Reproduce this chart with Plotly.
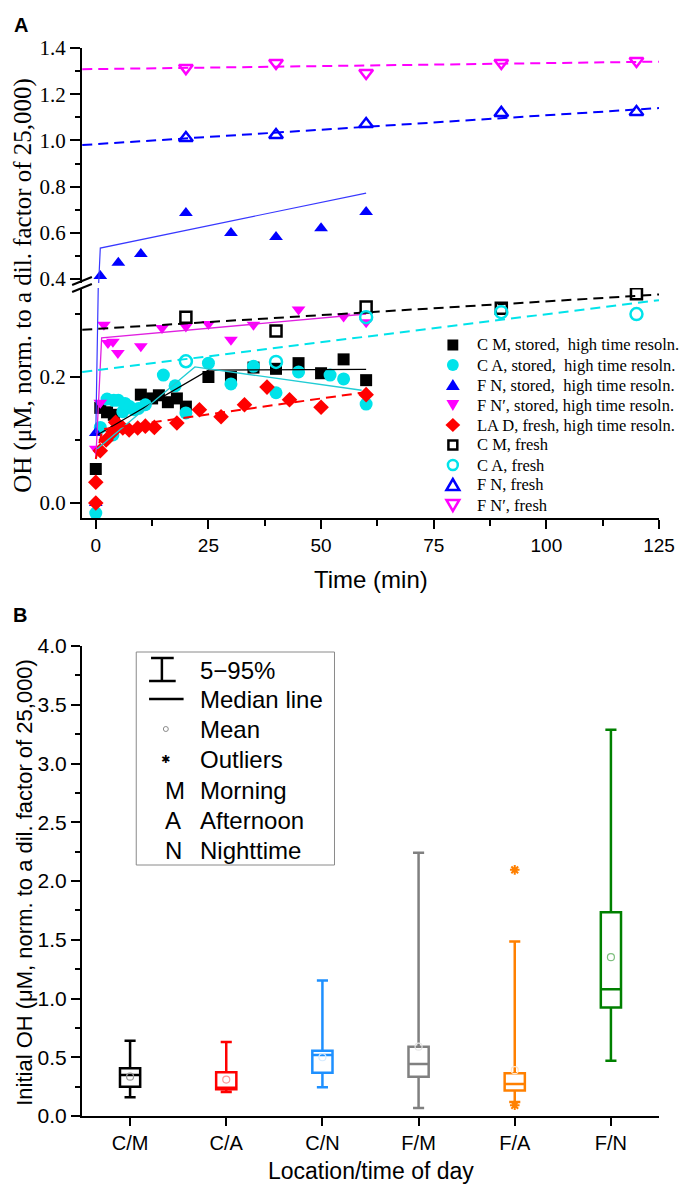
import plotly.graph_objects as go

# ---------------- Panel A data (time in min, OH in uM) ----------------
cm_stored_t = [0, 1, 2.5, 4, 10, 12.5, 14, 16, 18, 20, 25, 30, 35, 40, 45, 50, 55, 60]
cm_stored_v = [0.054, 0.151, 0.144, 0.140, 0.172, 0.166, 0.171, 0.160, 0.166, 0.153,
               0.200, 0.200, 0.215, 0.213, 0.222, 0.206, 0.228, 0.195]

ca_stored_t = [0, 1, 2.5, 3.8, 4, 5, 6, 6.5, 7.5, 8.5, 9.5, 11, 15, 17.6, 20,
               25, 30, 35, 40, 45, 52, 55, 60]
ca_stored_v = [-0.016, 0.120, 0.165, 0.108, 0.163, 0.163, 0.145, 0.158, 0.153, 0.148, 0.150, 0.156,
               0.203, 0.186, 0.143, 0.222, 0.189, 0.217, 0.175, 0.208, 0.203, 0.197, 0.157]

fn_stored_t = [0, 0, 1, 5, 10, 20, 30, 40, 50, 60]
fn_stored_v = [0.0, 0.111, 0.413, 0.47, 0.508, 0.686, 0.599, 0.582, 0.62, 0.69]

fnp_stored_t = [0, 1, 1.8, 2.7, 3.8, 4.9, 10, 14.7, 20, 25, 30, 35, 45, 55, 60]
fnp_stored_v = [0.086, 0.159, 0.283, 0.254, 0.256, 0.238, 0.249, 0.278, 0.280, 0.284,
                0.259, 0.283, 0.307, 0.296, 0.287]

lad_t = [0, 0, 1, 2.3, 3.8, 4.4, 6, 7.4, 9.3, 11, 13, 18, 23, 27.8, 33, 38, 43, 50, 60]
lad_v = [0.0, 0.033, 0.083, 0.100, 0.113, 0.128, 0.119, 0.116, 0.119, 0.122, 0.120,
         0.127, 0.148, 0.137, 0.156, 0.184, 0.164, 0.152, 0.172]

fresh_t = [20, 40, 60, 90, 120]
cm_fresh_v = [0.295, 0.273, 0.311, 0.309, 0.332]
ca_fresh_v = [0.225, 0.224, 0.295, 0.303, 0.300]
fn_fresh_v = [1.010, 1.023, 1.071, 1.119, 1.123]
fnp_fresh_v = [1.313, 1.335, 1.292, 1.335, 1.344]

# fitted curves
fit_span_t = [-3, 125]
cm_fresh_fit_v = [0.275, 0.331]
ca_fresh_fit_v = [0.208, 0.322]
fn_fresh_fit_v = [0.980, 1.140]
fnp_fresh_fit_v = [1.308, 1.341]

cm_stored_fit_t = [0.3, 25, 60]
cm_stored_fit_v = [0.108, 0.211, 0.212]
ca_stored_fit_t = [0, 22, 59]
ca_stored_fit_v = [0.084, 0.216, 0.179]
fnp_stored_fit_t = [0, 1.3, 60]
fnp_stored_fit_v = [0.07, 0.262, 0.300]
fn_stored_fit_t = [0, 1, 60]
fn_stored_fit_v = [0.111, 0.534, 0.772]
lad_fit_t = [0, 1.5, 60]
lad_fit_v = [0.07, 0.117, 0.176]

legend_a_labels = ["C M, stored,\u00a0 high time resoln.",
                   "C A, stored,\u00a0 high time resoln.",
                   "F N, stored,\u00a0 high time resoln.",
                   "F N\u2032, stored, high time resoln.",
                   "LA D, fresh, high time resoln.",
                   "C M, fresh", "C A, fresh", "F N, fresh", "F N\u2032, fresh"]

# ---------------- Panel B data ----------------
categories = ["C/M", "C/A", "C/N", "F/M", "F/A", "F/N"]
whisk_lo = [0.159, 0.204, 0.244, 0.068, 0.119, 0.471]
q1_vals = [0.250, 0.227, 0.369, 0.335, 0.216, 0.923]
med_vals = [0.349, 0.240, 0.520, 0.443, 0.272, 1.079]
q3_vals = [0.406, 0.372, 0.556, 0.590, 0.363, 1.735]
whisk_hi = [0.641, 0.630, 1.153, 2.240, 1.485, 3.288]
mean_vals = [0.335, 0.310, 0.500, 0.590, 0.390, 1.352]
outlier_cat = ["F/A", "F/A"]
outlier_vals = [2.095, 0.091]
box_colors = ["#000000", "#FF0000", "#1E90FF", "#808080", "#FF8000", "#008000"]
mean_colors = ["#9a9a9a", "#ff9a9a", "#d6ebff", "#e6e6e6", "#ffe6cc", "#7fbf7f"]

legend_b_labels = ["5\u221295%", "Median line", "Mean", "Outliers", "Morning", "Afternoon", "Nighttime"]
legend_b_keys = ["M", "A", "N"]

# ---------------- geometry helpers ----------------
# The page body adds an 8px offset, so the figure is drawn 8px smaller
# and positions below are given in screen pixels of the 687x1185 window.
OFF = 8
W, H = 687 - OFF, 1185 - OFF
PL, PT, PR, PB = 82, 48, 667, 1116          # plot area in screen pixels
PW = PR - PL
PH = PB - PT
ML, MT = PL - OFF, PT - OFF
MR = W - ML - PW
MB = H - MT - PH


def px(x):
    return (x - PL) / PW


def py(y):
    return (PB - y) / PH


SERIF = "Liberation Serif, Times New Roman, serif"
SANS = "Liberation Sans, Arial, sans-serif"

BLACK = "#000000"
CYAN = "#00E3EA"
BLUE = "#0000FF"
MAGENTA = "#FF00FF"
RED = "#FF0000"

fig = go.Figure()


def add_pts(t, v, symbol, color, size, lw=0):
    for ya in ("y", "y2"):
        fig.add_trace(go.Scatter(x=t, y=v, xaxis="x", yaxis=ya, mode="markers",
                                 showlegend=False, hoverinfo="skip",
                                 marker=dict(symbol=symbol, size=size, color=color,
                                             line=dict(width=lw, color=color))))


def add_line(t, v, color, width, dash="solid"):
    for ya in ("y", "y2"):
        fig.add_trace(go.Scatter(x=t, y=v, xaxis="x", yaxis=ya, mode="lines",
                                 showlegend=False, hoverinfo="skip",
                                 line=dict(color=color, width=width, dash=dash)))


DASH = "10px,6px"
# stored / high resolution markers
add_pts(cm_stored_t, cm_stored_v, "square", BLACK, 12)
add_pts(ca_stored_t, ca_stored_v, "circle", CYAN, 13)
add_pts(fn_stored_t, fn_stored_v, "triangle-up", BLUE, 12)
add_pts(fnp_stored_t, fnp_stored_v, "triangle-down", MAGENTA, 12)
add_pts(lad_t, lad_v, "diamond", RED, 12)

# fits
add_line(cm_stored_fit_t, cm_stored_fit_v, BLACK, 1.3)
add_line(ca_stored_fit_t, ca_stored_fit_v, "#22CCD4", 1.3)
add_line(fnp_stored_fit_t, fnp_stored_fit_v, "#E020E0", 1.3)
add_line(fn_stored_fit_t, fn_stored_fit_v, "#3838FF", 1.2)
add_line(lad_fit_t, lad_fit_v, RED, 2, DASH)
add_line(fit_span_t, cm_fresh_fit_v, BLACK, 2, DASH)
add_line(fit_span_t, ca_fresh_fit_v, CYAN, 2, DASH)
add_line(fit_span_t, fn_fresh_fit_v, BLUE, 2, DASH)
add_line(fit_span_t, fnp_fresh_fit_v, MAGENTA, 2, DASH)

# fresh markers
add_pts(fresh_t, cm_fresh_v, "square-open", BLACK, 11, 2.5)
add_pts(fresh_t, ca_fresh_v, "circle-open", CYAN, 12, 2.5)
add_pts(fresh_t, fn_fresh_v, "triangle-up-open", BLUE, 12, 2.5)
add_pts(fresh_t, fnp_fresh_v, "triangle-down-open", MAGENTA, 12, 2.5)

# ---------------- Panel B boxes ----------------
for i, cat in enumerate(categories):
    fig.add_trace(go.Box(x=[cat], q1=[q1_vals[i]], median=[med_vals[i]], q3=[q3_vals[i]],
                         lowerfence=[whisk_lo[i]], upperfence=[whisk_hi[i]],
                         xaxis="x3", yaxis="y3", boxpoints=False, width=0.21, whiskerwidth=0.55,
                         line=dict(color=box_colors[i], width=2.5), fillcolor="rgba(255,255,255,0)",
                         showlegend=False, hoverinfo="skip"))
    fig.add_trace(go.Scatter(x=[cat], y=[mean_vals[i]], xaxis="x3", yaxis="y3", mode="markers",
                             showlegend=False, hoverinfo="skip",
                             marker=dict(symbol="circle-open", size=7, color=mean_colors[i],
                                         line=dict(width=1.2, color=mean_colors[i]))))

fig.add_trace(go.Scatter(x=outlier_cat, y=outlier_vals, xaxis="x3", yaxis="y3", mode="markers",
                         showlegend=False, hoverinfo="skip",
                         marker=dict(symbol="asterisk-open", size=8, color=box_colors[4],
                                     line=dict(width=2, color=box_colors[4]))))

# ---------------- axes ----------------
tick_common = dict(ticks="outside", tickcolor="black", showline=True, linecolor="black",
                   linewidth=2, showgrid=False, zeroline=False)

fig.update_layout(
    width=W, height=H, margin=dict(l=ML, r=MR, t=MT, b=MB, pad=0),
    paper_bgcolor="white", plot_bgcolor="white", showlegend=False,
    xaxis=dict(domain=[0, 1], anchor="y", range=[-3.06, 125], tickmode="linear", tick0=0, dtick=25,
               ticklen=9, tickwidth=2,
               minor=dict(ticks="outside", ticklen=6, tickwidth=2, tickcolor="black", dtick=12.5, tick0=0),
               tickfont=dict(family=SANS, size=19, color="black"), **tick_common),
    yaxis=dict(domain=[py(518), py(288)], anchor="x", range=[-0.0238, 0.3413], tickmode="linear",
               tick0=0, dtick=0.2, tickformat=".1f", ticklen=10, tickwidth=2,
               minor=dict(ticks="outside", ticklen=5, tickwidth=2, tickcolor="black", dtick=0.1, tick0=0),
               tickfont=dict(family=SERIF, size=21, color="black"), **tick_common),
    yaxis2=dict(domain=[py(283), 1], anchor="x", range=[0.3827, 1.4], tickmode="linear",
                tick0=0, dtick=0.2, tickformat=".1f", ticklen=10, tickwidth=2,
                minor=dict(ticks="outside", ticklen=5, tickwidth=2, tickcolor="black", dtick=0.1, tick0=0),
                tickfont=dict(family=SERIF, size=21, color="black"), **tick_common),
    xaxis3=dict(domain=[0, 1], anchor="y3", type="category", categoryorder="array",
                categoryarray=categories, range=[-0.5, 5.5], ticklen=8, tickwidth=2,
                tickfont=dict(family=SANS, size=20, color="black"), **tick_common),
    yaxis3=dict(domain=[0, py(646)], anchor="x3", range=[0, 4], tickmode="linear", tick0=0, dtick=0.5,
                tickformat=".1f", ticklen=9, tickwidth=2,
                minor=dict(ticks="outside", ticklen=5, tickwidth=2, tickcolor="black", dtick=0.25, tick0=0),
                tickfont=dict(family=SANS, size=21, color="black"), **tick_common),
)

# ---------------- annotations & decorations ----------------
ann = []
shapes = []


def text(x, y, s, size, family, xanchor="center", angle=0, color="black"):
    ann.append(dict(x=px(x), y=py(y), xref="paper", yref="paper", text=s, showarrow=False,
                    xanchor=xanchor, yanchor="middle", textangle=angle,
                    font=dict(size=size, family=family, color=color)))


def line(x0, y0, x1, y1, color="black", width=2):
    shapes.append(dict(type="line", xref="paper", yref="paper", x0=px(x0), y0=py(y0),
                       x1=px(x1), y1=py(y1), line=dict(color=color, width=width)))


def path(pts, color, fill=True, width=2.5):
    d = "M " + " L ".join(f"{px(a):.5f},{py(b):.5f}" for a, b in pts) + " Z"
    shapes.append(dict(type="path", xref="paper", yref="paper", path=d,
                       fillcolor=color if fill else "rgba(0,0,0,0)",
                       line=dict(color=color, width=0 if fill else width)))


def rect(x0, y0, x1, y1, color, fill=True, width=2.5, kind="rect"):
    shapes.append(dict(type=kind, xref="paper", yref="paper", x0=px(x0), y0=py(y1), x1=px(x1), y1=py(y0),
                       fillcolor=color if fill else "rgba(0,0,0,0)",
                       line=dict(color=color, width=0 if fill else width)))


# panel labels and axis titles
text(20, 25, "<b>A</b>", 20, SANS)
text(19, 615, "<b>B</b>", 20, SANS)
text(22, 285, "OH (\u03bcM, norm. to a dil. factor of 25,000)", 25, SERIF, angle=-90)
text(375, 579, "Time (min)", 24, SANS)
text(23, 882, "Initial OH (\u03bcM, norm. to a dil. factor of 25,000)", 22, SANS, angle=-90)
text(375, 1171, "Location/time of day", 23, SANS)

# axis break marks
line(72, 285, 92, 277)
line(72, 292, 92, 284)

# panel A legend
rows = [345, 365, 385, 405, 425, 445, 465, 485, 505]
cx = 458
rect(cx - 5.5, rows[0] - 5.5, cx + 5.5, rows[0] + 5.5, BLACK)
rect(cx - 6, rows[1] - 6, cx + 6, rows[1] + 6, CYAN, kind="circle")
path([(cx - 7, rows[2] + 5), (cx + 7, rows[2] + 5), (cx, rows[2] - 6)], BLUE)
path([(cx - 6.5, rows[3] - 5), (cx + 6.5, rows[3] - 5), (cx, rows[3] + 6)], MAGENTA)
path([(cx, rows[4] - 7), (cx + 7.5, rows[4]), (cx, rows[4] + 7), (cx - 7.5, rows[4])], RED)
rect(cx - 4.5, rows[5] - 4.5, cx + 4.5, rows[5] + 4.5, BLACK, fill=False)
rect(cx - 5, rows[6] - 5, cx + 5, rows[6] + 5, CYAN, fill=False, kind="circle")
path([(cx - 6.5, rows[7] + 5), (cx + 6.5, rows[7] + 5), (cx, rows[7] - 6)], BLUE, fill=False)
path([(cx - 6.5, rows[8] - 5), (cx + 6.5, rows[8] - 5), (cx, rows[8] + 6)], MAGENTA, fill=False)
for r, lab in zip(rows, legend_a_labels):
    text(480, r, lab, 16.5, SERIF, xanchor="left")

# panel B legend
shapes.append(dict(type="rect", xref="paper", yref="paper", x0=px(137), x1=px(338),
                   y0=py(865), y1=py(652), line=dict(color="#8a8a8a", width=1),
                   fillcolor="rgba(0,0,0,0)"))
brow = [670, 699, 729, 759, 790, 820, 850]
line(163, 658, 163, 681, width=2.5)
line(152, 658, 175, 658, width=2.5)
line(150, 681, 177, 681, width=2.5)
line(150, brow[1], 185, brow[1], width=2.5)
shapes.append(dict(type="circle", xref="paper", yref="paper", x0=px(164.5), x1=px(169.5),
                   y0=py(731.5), y1=py(726.5), line=dict(color="#8a8a8a", width=1)))
text(167, brow[3], "\u2731", 11, "DejaVu Sans")
for r, k in zip(brow[4:], legend_b_keys):
    text(164, r, k, 24, SANS, xanchor="left")
for r, lab in zip(brow, legend_b_labels):
    text(200, r, lab, 24, SANS, xanchor="left")

fig.update_layout(annotations=ann, shapes=shapes)

fig.write_html("out.html")
